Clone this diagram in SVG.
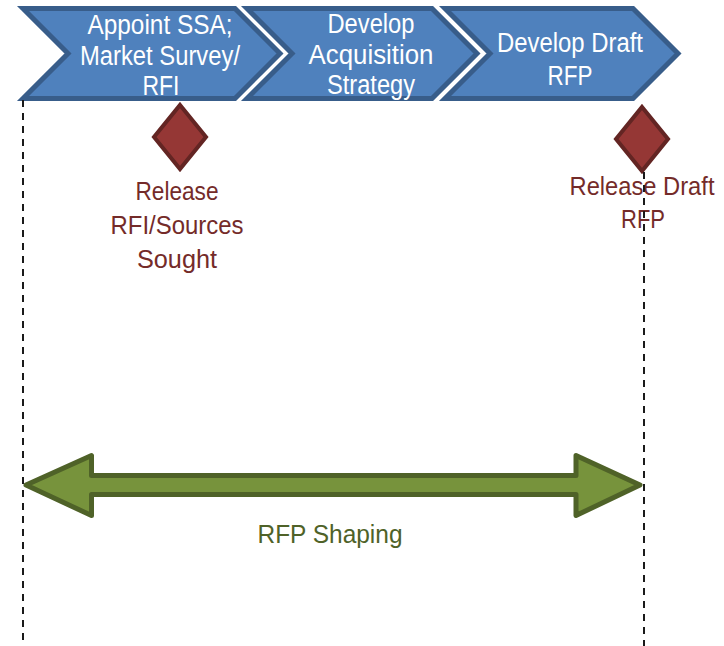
<svg xmlns="http://www.w3.org/2000/svg" width="724" height="646" viewBox="0 0 724 646">
  <style>
    .chev { fill: #4F81BD; stroke: #385D8A; stroke-width: 5; stroke-linejoin: miter; }
    .chev-t { font-family: "Liberation Sans", Arial, sans-serif; font-size: 27px; fill: #FFFFFF; text-anchor: middle; }
    .dia { fill: #953735; stroke: #632523; stroke-width: 4; stroke-linejoin: miter; }
    .dia-t { font-family: "Liberation Sans", Arial, sans-serif; font-size: 25px; fill: #742B29; text-anchor: middle; }
    .arrow { fill: #77933C; stroke: #4F6228; stroke-width: 5; stroke-linejoin: round; }
    .arrow-t { font-family: "Liberation Sans", Arial, sans-serif; font-size: 25px; fill: #4F6228; text-anchor: middle; }
    .dash { stroke: #1A1A1A; stroke-width: 2; stroke-dasharray: 7 6; fill: none; }
  </style>
  <rect width="724" height="646" fill="#FFFFFF"/>

  <g id="phase-appoint">
    <path class="chev" d="M23,8.5 L235,8.5 L280,53.5 L235,98.5 L23,98.5 L68,53.5 Z"/>
    <text class="chev-t" x="160" y="34" textLength="145" lengthAdjust="spacingAndGlyphs">Appoint SSA;</text>
    <text class="chev-t" x="160" y="65" textLength="160" lengthAdjust="spacingAndGlyphs">Market Survey/</text>
    <text class="chev-t" x="161" y="95" textLength="37" lengthAdjust="spacingAndGlyphs">RFI</text>
  </g>

  <g id="phase-strategy">
    <path class="chev" d="M247,8.5 L432,8.5 L477,53.5 L432,98.5 L247,98.5 L292,53.5 Z"/>
    <text class="chev-t" x="371" y="33" textLength="87" lengthAdjust="spacingAndGlyphs">Develop</text>
    <text class="chev-t" x="371" y="64" textLength="125" lengthAdjust="spacingAndGlyphs">Acquisition</text>
    <text class="chev-t" x="371" y="94" textLength="88" lengthAdjust="spacingAndGlyphs">Strategy</text>
  </g>

  <g id="phase-draft-rfp">
    <path class="chev" d="M445,8.5 L633,8.5 L678,53.5 L633,98.5 L445,98.5 L490,53.5 Z"/>
    <text class="chev-t" x="570" y="52" textLength="146" lengthAdjust="spacingAndGlyphs">Develop Draft</text>
    <text class="chev-t" x="570" y="85" textLength="45" lengthAdjust="spacingAndGlyphs">RFP</text>
  </g>

  <g id="milestone-rfi">
    <path class="dia" d="M180,105 L206,137 L180,169 L154,137 Z"/>
    <text class="dia-t" x="177" y="200" textLength="83" lengthAdjust="spacingAndGlyphs">Release</text>
    <text class="dia-t" x="177" y="234" textLength="133" lengthAdjust="spacingAndGlyphs">RFI/Sources</text>
    <text class="dia-t" x="177" y="268" textLength="80" lengthAdjust="spacingAndGlyphs">Sought</text>
  </g>

  <g id="milestone-draft-rfp">
    <path class="dia" d="M642,107 L668,139 L642,171 L616,139 Z"/>
    <text class="dia-t" x="642" y="195" textLength="145" lengthAdjust="spacingAndGlyphs">Release Draft</text>
    <text class="dia-t" x="643" y="228" textLength="44" lengthAdjust="spacingAndGlyphs">RFP</text>
  </g>

  <g id="rfp-shaping">
    <path class="arrow" d="M26,485 L91.5,455.5 L91.5,475.5 L576,475.5 L576,455.5 L640,485 L576,515.5 L576,494.5 L91.5,494.5 L91.5,515.5 Z"/>
    <text class="arrow-t" x="330" y="543" textLength="145" lengthAdjust="spacingAndGlyphs">RFP Shaping</text>
  </g>

  <g id="connectors">
    <line class="dash" x1="23" y1="100" x2="23" y2="646"/>
    <line class="dash" x1="644" y1="172" x2="644" y2="646"/>
  </g>
</svg>
